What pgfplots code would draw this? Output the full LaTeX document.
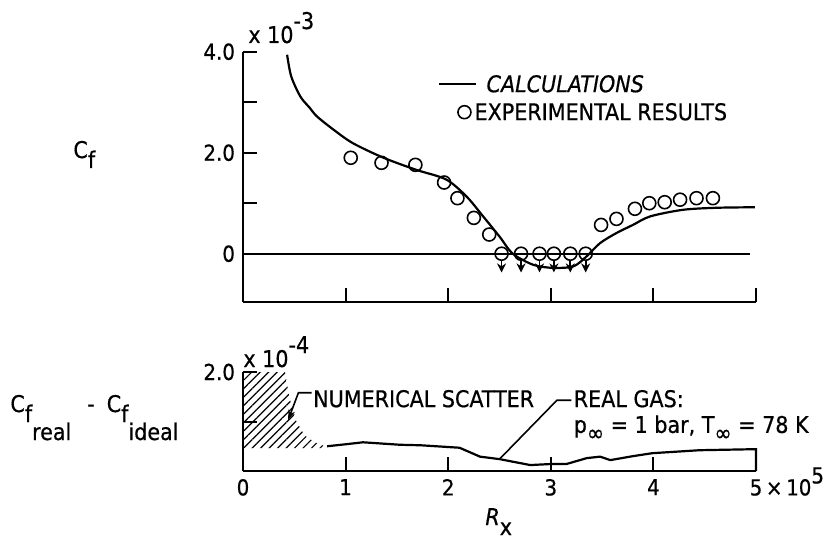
\documentclass[border=0pt]{standalone}
\usepackage{fontspec}
\setmainfont{DejaVu Sans Condensed}[FakeBold=0.6,
  ItalicFont={DejaVu Sans Condensed Oblique}, ItalicFeatures={FakeBold=0.6}]
\usepackage{pgfplots}
\pgfplotsset{compat=1.18}
\usetikzlibrary{arrows.meta,patterns.meta}

% skin-friction results
\pgfplotstableread{
x y
0.43 3.94
0.47 3.51
0.56 3.11
0.65 2.89
0.72 2.72
0.88 2.46
1.07 2.19
1.37 1.90
1.69 1.66
1.98 1.47
2.18 1.13
2.34 0.74
2.50 0.34
2.63 0.00
2.83 -0.22
3.02 -0.28
3.22 -0.25
3.35 -0.05
3.48 0.21
3.64 0.41
3.80 0.57
3.97 0.74
4.29 0.87
4.62 0.91
4.99 0.92
}\calc

\pgfplotstableread{
x y
1.05 1.90
1.35 1.80
1.68 1.76
1.96 1.41
2.09 1.10
2.25 0.71
2.40 0.38
2.52 0.00
2.71 0.00
2.89 0.00
3.03 0.00
3.19 0.00
3.34 0.00
3.49 0.57
3.64 0.69
3.82 0.89
3.96 1.00
4.11 1.02
4.26 1.07
4.42 1.10
4.58 1.10
}\expt

% points whose true value lies below zero
\pgfplotstableread{
x y
2.52 -0.13
2.71 -0.13
2.89 -0.13
3.03 -0.13
3.19 -0.13
3.34 -0.13
}\below

% real-gas minus ideal-gas difference
\pgfplotstableread{
x y
0.82 0.50
1.00 0.54
1.17 0.58
1.53 0.53
1.73 0.52
2.11 0.47
2.31 0.29
2.50 0.24
2.80 0.12
2.99 0.14
3.15 0.14
3.35 0.26
3.48 0.29
3.58 0.22
3.80 0.30
3.99 0.36
4.45 0.42
4.97 0.44
5.00 0.44
5.00 0.00
}\diffc

\pgfplotsset{
  panel/.style={
    axis x line=bottom, axis y line=left,
    axis line style={-, line width=1pt},
    tick style={line width=1pt, black},
    tick align=inside, major tick length=7pt,
    xmin=0, xmax=5, x=51.3pt,
    clip=false,
    tick label style={font=\fontsize{11}{13}\selectfont},
  },
  lineimg/.style={legend image code/.code={\draw[#1] (0pt,0pt) -- (18.5pt,0pt);}},
  markimg/.style={legend image code/.code={\draw[#1] plot coordinates {(12.5pt,0pt)};}},
}

\begin{document}
\fontsize{11.5}{13}\selectfont
\begin{tikzpicture}
\path[use as bounding box] (0,0) rectangle (411.5pt,-269.5pt);

% upper panel: skin friction coefficient
\begin{axis}[panel,
  y=25.25pt, ymin=-0.95, ymax=4.0,
  at={(121.5pt,-150.85pt)}, anchor=south west,
  xtick={1,2,3,4,5}, xticklabels={,,,,},
  ytick={0,1,2,3,4}, yticklabels={0,,2.0,,4.0},
  legend style={draw=none, fill=none, inner sep=0pt, row sep=5pt,
    at={(axis cs:1.90,3.08)}, anchor=west,
    nodes={inner sep=0pt, text height=8.5pt, text depth=0.5pt},
    font=\fontsize{11.5}{13}\selectfont},
  legend cell align=left,
]
\addplot[forget plot, line width=1pt] coordinates {(0,0) (4.94,0)};
\addplot[line width=1.1pt, smooth, tension=0.5, lineimg] table {\calc};
\addlegendentry{\hspace{4.5pt}\textit{CALCULATIONS}}
\addplot[forget plot, line width=0.9pt, quiver={u=0,v=-0.24},
  -{Stealth[length=4.5pt,width=4.5pt]}] table {\below};
\addplot[only marks, mark=o, mark size=3.25pt,
  mark options={fill=white, line width=0.8pt}, markimg] table {\expt};
\addlegendentry{\hspace{-1.5pt}EXPERIMENTAL RESULTS}
\end{axis}

% lower panel: real-gas effect
\begin{axis}[panel,
  y=24.75pt, ymin=0, ymax=2,
  at={(121.5pt,-235.5pt)}, anchor=south west,
  xtick={0,1,2,3,4,5},
  xticklabels={0,1,2,3,4,{5\rlap{\,×\,10\smash{\raisebox{6pt}{5}}}}},
  ytick={1,2}, yticklabels={,2.0},
]
\addplot[draw=none, pattern={Lines[angle=45,distance=3pt,line width=0.6pt]}]
  coordinates {(0,0.46) (0,2.0) (0.41,2.0) (0.45,1.5) (0.52,1.0)
               (0.60,0.72) (0.70,0.58) (0.80,0.50) (0.80,0.46)} -- cycle;
\addplot[line width=1.1pt] table {\diffc};
\draw[line width=0.8pt, -{Stealth[length=5pt,width=3.5pt]}]
  (axis cs:0.67,1.58) -- (axis cs:0.54,1.58) -- (axis cs:0.44,1.03);
\node[anchor=west, inner sep=0pt] at (axis cs:0.68,1.46) {NUMERICAL SCATTER};
\draw[line width=0.8pt] (axis cs:3.20,1.43) -- (axis cs:3.06,1.43) -- (axis cs:2.50,0.24);
\node[anchor=west, inner sep=0pt] at (axis cs:3.22,1.46) {REAL GAS:};
\node[anchor=base west, inner sep=0pt] at (axis cs:3.22,0.77)
  {p\raisebox{-4pt}{∞} = 1 bar, T\raisebox{-4pt}{∞} = 78 K};
\end{axis}

% scale factors and axis titles
\node[anchor=base west, inner sep=0pt] at (124pt,-21.5pt) {x 10\raisebox{7pt}{-3}};
\node[anchor=base west, inner sep=0pt] at (121.5pt,-183.5pt) {x 10\raisebox{7pt}{-4}};
\node[anchor=base west, inner sep=0pt] at (36.5pt,-79pt) {C\raisebox{-5pt}{f}};
\node[anchor=base west, inner sep=0pt] at (5pt,-206pt)
  {C\raisebox{-5pt}{f\raisebox{-9pt}{real}}\hspace{8pt}-\hspace{6pt}C\raisebox{-5pt}{f\raisebox{-9pt}{ideal}}};
\node[anchor=base west, inner sep=0pt] at (242.5pt,-262.5pt) {\textit{R}\raisebox{-5pt}{x}};
\end{tikzpicture}
\end{document}
